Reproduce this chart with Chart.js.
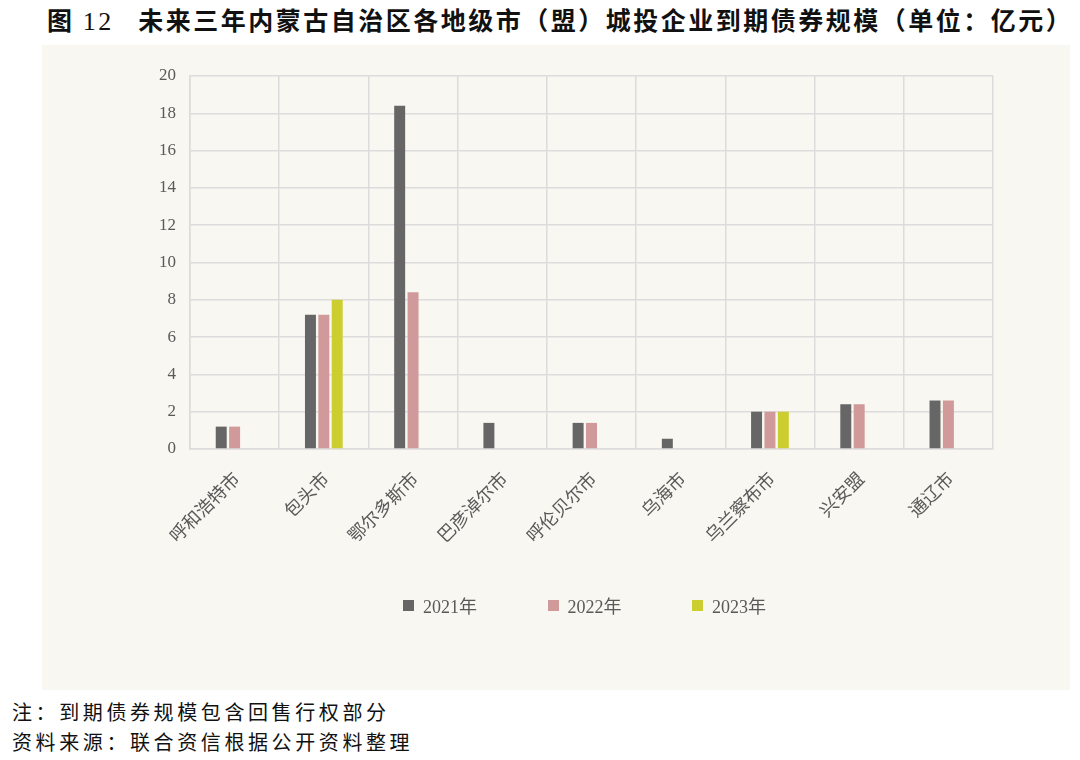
<!DOCTYPE html>
<html lang="zh-CN">
<head>
<meta charset="UTF-8">
<title>内蒙古城投企业到期债券规模</title>
<script src="https://cdn.jsdelivr.net/npm/chart.js"></script>
<style>
    body { margin: 0; width: 1080px; height: 760px; background: #ffffff; position: relative; overflow: hidden; font-family: "Noto Sans CJK SC", sans-serif; }
    .title { position: absolute; left: 47px; top: 1px; font-size: 25px; font-weight: bold; color: #111; white-space: nowrap; letter-spacing: 2.5px; }
    .title .num { font-family: "Liberation Serif", serif; font-weight: normal; font-size: 26px; }
    .panel { position: absolute; left: 42px; top: 45px; width: 1028px; height: 645px; background: #f8f7f1; }
    .legend { position: absolute; left: 403px; top: 592px; display: flex; }
    .legend .item { width: 144.5px; display: flex; align-items: center; font-family: "Liberation Serif", "Noto Sans CJK SC", serif; font-size: 18px; color: #595959; }
    .legend .box { width: 11px; height: 11px; margin-right: 9px; }
    .note { position: absolute; left: 12px; font-size: 20px; color: #111; letter-spacing: 3.6px; white-space: nowrap; }
</style>
</head>
<body>
    <div class="title">图 <span class="num">12</span>&nbsp;&nbsp;&nbsp;未来三年内蒙古自治区各地级市（盟）城投企业到期债券规模（单位：亿元）</div>
    <div class="panel"><canvas id="barChart" width="1028" height="645"></canvas></div>
    <div class="legend" id="legend"></div>
    <div class="note" style="top:697px">注：到期债券规模包含回售行权部分</div>
    <div class="note" style="top:727px">资料来源：联合资信根据公开资料整理</div>
<script>
    // data
    const cities = ['呼和浩特市', '包头市', '鄂尔多斯市', '巴彦淖尔市', '呼伦贝尔市', '乌海市', '乌兰察布市', '兴安盟', '通辽市'];
    const years = ['2021年', '2022年', '2023年'];
    const v2021 = [1.2, 7.2, 18.4, 1.4, 1.4, 0.55, 2.0, 2.4, 2.6];
    const v2022 = [1.2, 7.2, 8.4, null, 1.4, null, 2.0, 2.4, 2.6];
    const v2023 = [null, 8.0, null, null, null, null, 2.0, null, null];
    const colors = ['#666666', '#cf9a99', '#cccd2e'];

    const serif = "'Liberation Serif', 'Noto Sans CJK SC'";
    const gridColor = '#dcdcdc';

    const ctx = document.getElementById('barChart').getContext('2d');
    const barChart = new Chart(ctx, {
        type: 'bar',
        data: {
            labels: cities,
            datasets: [v2021, v2022, v2023].map((d, i) => ({
                label: years[i],
                data: d,
                backgroundColor: colors[i],
                barPercentage: 0.82,
                categoryPercentage: 0.45
            }))
        },
        options: {
            responsive: false,
            animation: false,
            layout: { padding: { top: 31, right: 77, left: 0, bottom: 131 } },
            scales: {
                x: {
                    grid: { color: gridColor, lineWidth: 1.5, offset: true, drawTicks: false },
                    border: { color: gridColor, width: 1.5 },
                    ticks: {
                        font: { family: serif, size: 18 }, color: '#595959',
                        minRotation: 45, maxRotation: 45,
                        labelOffset: 3, padding: 20
                    },
                    afterFit: (scale) => { scale.height = 110; }
                },
                y: {
                    min: 0, max: 20,
                    grid: { color: gridColor, lineWidth: 1.5, drawTicks: false },
                    border: { color: gridColor, width: 1.5 },
                    ticks: { stepSize: 2, font: { family: serif, size: 17 }, color: '#595959', padding: 14 },
                    afterFit: (scale) => { scale.width = 148; }
                }
            },
            plugins: {
                legend: { display: false },
                tooltip: { enabled: false }
            }
        }
    });

    // legend built from the datasets
    const legendEl = document.getElementById('legend');
    barChart.data.datasets.forEach(ds => {
        const item = document.createElement('div');
        item.className = 'item';
        item.innerHTML = `<span class="box" style="background:${ds.backgroundColor}"></span>${ds.label}`;
        legendEl.appendChild(item);
    });
</script>
</body>
</html>
